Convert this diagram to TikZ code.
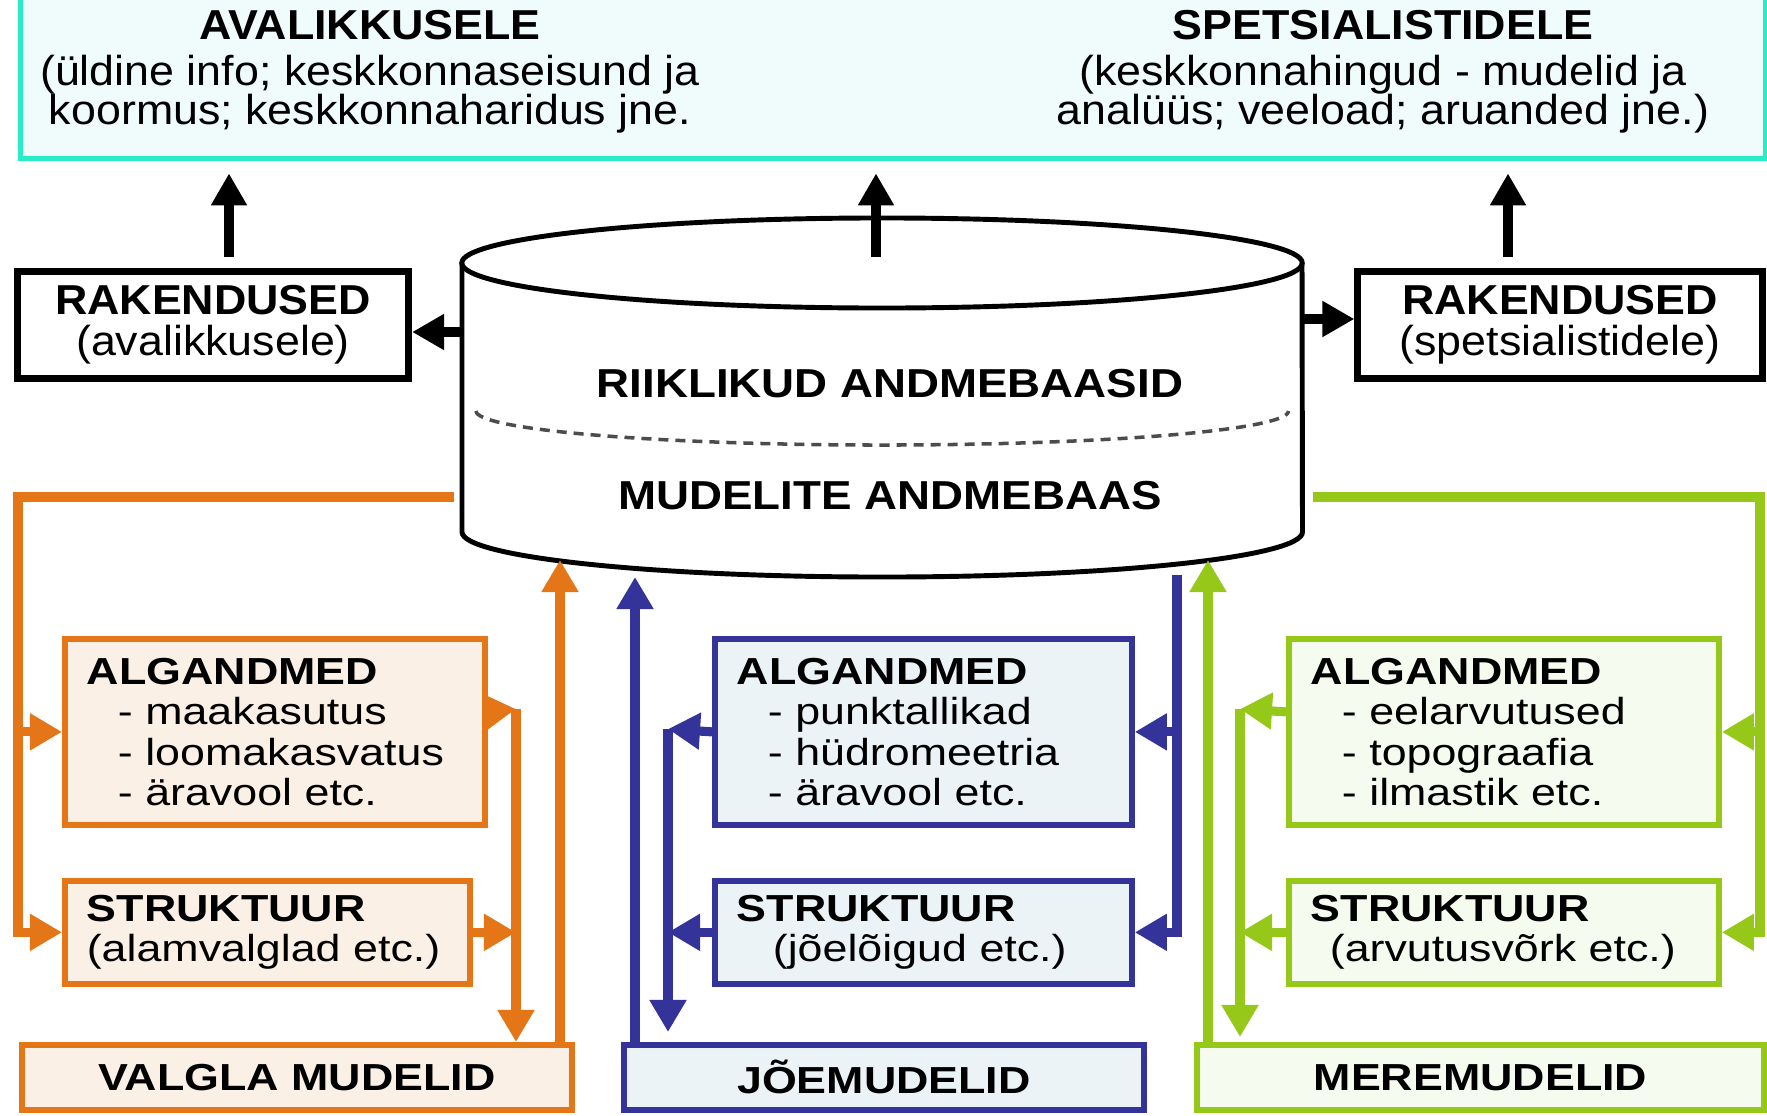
\documentclass[tikz,border=0pt]{standalone}
\usepackage{fontspec}
\setmainfont{Liberation Sans}
\newfontfamily\topfont[FakeStretch=1.07]{Liberation Sans}
\newfontfamily\dbfont[FakeStretch=1.13]{Liberation Sans}
\newfontfamily\boxfont[FakeStretch=1.19]{Liberation Sans}
\usetikzlibrary{arrows.meta}
\definecolor{caqua}{RGB}{40,235,200}
\definecolor{caquafill}{RGB}{240,252,252}
\definecolor{corange}{RGB}{228,118,24}
\definecolor{corangefill}{RGB}{250,240,230}
\definecolor{cblue}{RGB}{51,51,153}
\definecolor{cbluefill}{RGB}{236,243,247}
\definecolor{cgreen}{RGB}{150,200,25}
\definecolor{cgreenfill}{RGB}{246,251,240}
\newcommand{\dataline}[1]{\hspace*{0.31cm}- #1}
\begin{document}
\begin{tikzpicture}[x=0.01cm,y=-0.01cm]
    \tikzstyle{top text}=[font=\topfont\fontsize{11.9}{11.2}\selectfont,align=center]
    \tikzstyle{db text}=[font=\dbfont\bfseries\fontsize{11.5}{13}\selectfont]
    \tikzset{
    app box/.style={draw,line width=2pt,fill=white,align=center,
      font=\topfont\fontsize{11.9}{11.7}\selectfont},
    data box/.style 2 args={draw=#1,fill=#2,line width=1.6pt,anchor=north west,
      inner xsep=0.22cm,inner ysep=0pt,align=left,
      font=\boxfont\fontsize{10.7}{11.5}\selectfont},
    model box/.style 2 args={draw=#1,fill=#2,line width=1.6pt,anchor=north west,
      minimum height=0.65cm,inner sep=0pt,
      font=\boxfont\bfseries\fontsize{10.7}{11.5}\selectfont},
    black arrow/.style={line width=2.8pt,-{Triangle[width=0.34cm,length=0.32cm]}},
    feed line/.style={color=#1,line width=2.6pt,-{Triangle[width=0.35cm,length=0.32cm]}}
    }
    \useasboundingbox (0,0) rectangle (1767,1115);

    \node[draw=caqua,fill=caquafill,line width=1.5pt,anchor=north west,inner sep=0pt,
      minimum width=17.44cm,minimum height=1.66cm] (topBox) at (18,-10) {};
    \node[top text] (pubTxt) at (370,72) {\textbf{AVALIKKUSELE}\\[0.6mm]
      (üldine info; keskkonnaseisund ja\\koormus; keskkonnaharidus jne.};
    \node[top text] (specTxt) at (1383,72) {\textbf{SPETSIALISTIDELE}\\[0.6mm]
      (keskkonnahingud - mudelid ja\\analüüs; veeload; aruanded jne.)};

    \node[app box,minimum width=3.91cm,minimum height=1.07cm] (lApp) at (213,325)
      {\textbf{RAKENDUSED}\\(avalikkusele)};
    \node[app box,minimum width=4.04cm,minimum height=1.07cm] (rApp) at (1560,325)
      {\textbf{RAKENDUSED}\\(spetsialistidele)};

    \draw[line width=1.4pt,fill=white] (462,263) -- (462,532)
      arc[start angle=180,end angle=360,x radius=4.2cm,y radius=0.45cm] -- (1302,263);
    \draw[line width=1.4pt] (882,263) ellipse[x radius=4.2cm,y radius=0.45cm];
    \draw[gray!60!black,line width=1pt,dash pattern=on 0.1cm off 0.07cm] (476,411)
      arc[start angle=180,end angle=360,x radius=4.06cm,y radius=0.34cm];
    \node[db text] (natDb) at (890,384) {RIIKLIKUD ANDMEBAASID};
    \node[db text] (modDb) at (890,496) {MUDELITE ANDMEBAAS};

    \coordinate (lUp) at (229,257);
    \coordinate (dbTop) at (876,257);
    \coordinate (rUp) at (1508,257);
    \coordinate (dbL) at (462,332);
    \coordinate (dbR) at (1300,319);
    \draw[black arrow,shorten >=1.2mm] (lUp) -- (lUp |- topBox.south);
    \draw[black arrow,shorten >=1.2mm] (dbTop) -- (dbTop |- topBox.south);
    \draw[black arrow,shorten >=1.2mm] (rUp) -- (rUp |- topBox.south);
    \draw[black arrow] (dbL) -- (dbL -| lApp.east);
    \draw[black arrow] (dbR) -- (dbR -| rApp.west);

    \node[data box={corange}{corangefill},text width=3.76cm,minimum height=1.86cm] (oAlg) at (62,636)
      {\textbf{ALGANDMED}\\\dataline{maakasutus}\\\dataline{loomakasvatus}\\\dataline{äravool etc.}};
    \node[data box={corange}{corangefill},text width=3.61cm,minimum height=1.03cm] (oStr) at (62,878)
      {\textbf{STRUKTUUR}\\(alamvalglad etc.)};
    \node[model box={corange}{corangefill},minimum width=5.5cm] (oVal) at (19,1042) {VALGLA MUDELID};

    \node[data box={cblue}{cbluefill},text width=3.73cm,minimum height=1.86cm] (bAlg) at (712,636)
      {\textbf{ALGANDMED}\\\dataline{punktallikad}\\\dataline{hüdromeetria}\\\dataline{äravool etc.}};
    \node[data box={cblue}{cbluefill},text width=3.73cm,minimum height=1.03cm] (bStr) at (712,878)
      {\textbf{STRUKTUUR}\\\hspace*{0.36cm}(jõelõigud etc.)};
    \node[model box={cblue}{cbluefill},minimum width=5.2cm] (bJoe) at (621,1042) {JÕEMUDELID};

    \node[data box={cgreen}{cgreenfill},text width=3.86cm,minimum height=1.86cm] (gAlg) at (1286,636)
      {\textbf{ALGANDMED}\\\dataline{eelarvutused}\\\dataline{topograafia}\\\dataline{ilmastik etc.}};
    \node[data box={cgreen}{cgreenfill},text width=3.86cm,minimum height=1.03cm] (gStr) at (1286,878)
      {\textbf{STRUKTUUR}\\\hspace*{0.19cm}(arvutusvõrk etc.)};
    \node[model box={cgreen}{cgreenfill},minimum width=5.67cm] (gMere) at (1194,1042) {MEREMUDELID};

    \coordinate (oIn) at (454,497);
    \coordinate (oRail) at (18,497);
    \coordinate (oRailR) at (516,709);
    \coordinate (oUp) at (560,560);
    \draw[feed line=corange] (oIn) -- (oRail) |- (oStr.west);
    \draw[feed line=corange] (oRail |- oAlg.west) -- (oAlg.west);
    \draw[feed line=corange] ([yshift=2mm]oAlg.east) -- (oRailR);
    \draw[feed line=corange] (oStr.east) -- (oStr.east -| oRailR);
    \draw[feed line=corange] (oRailR) -- (oRailR |- oVal.north);
    \draw[feed line=corange] (oVal.north -| oUp) -- (oUp);

    \coordinate (bUp) at (635,577);
    \coordinate (bRailL) at (668,729);
    \coordinate (bTop) at (1177,575);
    \draw[feed line=cblue] (bJoe.north -| bUp) -- (bUp);
    \draw[feed line=cblue] (bAlg.west) -- (bRailL);
    \draw[feed line=cblue] (bStr.west) -- (bStr.west -| bRailL);
    \draw[feed line=cblue,shorten >=1mm] (bRailL) -- (bRailL |- bJoe.north);
    \draw[feed line=cblue] (bTop) |- (bStr.east);
    \draw[feed line=cblue] (bTop |- bAlg.east) -- (bAlg.east);

    \coordinate (gIn) at (1313,497);
    \coordinate (gRail) at (1760,497);
    \coordinate (gRailL) at (1240,709);
    \coordinate (gUp) at (1208,560);
    \draw[feed line=cgreen] (gIn) -- (gRail) |- (gStr.east);
    \draw[feed line=cgreen] (gRail |- gAlg.east) -- (gAlg.east);
    \draw[feed line=cgreen] ([yshift=2mm]gAlg.west) -- (gRailL);
    \draw[feed line=cgreen] (gStr.west) -- (gStr.west -| gRailL);
    \draw[feed line=cgreen,shorten >=0.5mm] (gRailL) -- (gRailL |- gMere.north);
    \draw[feed line=cgreen] (gMere.north -| gUp) -- (gUp);
\end{tikzpicture}
\end{document}
